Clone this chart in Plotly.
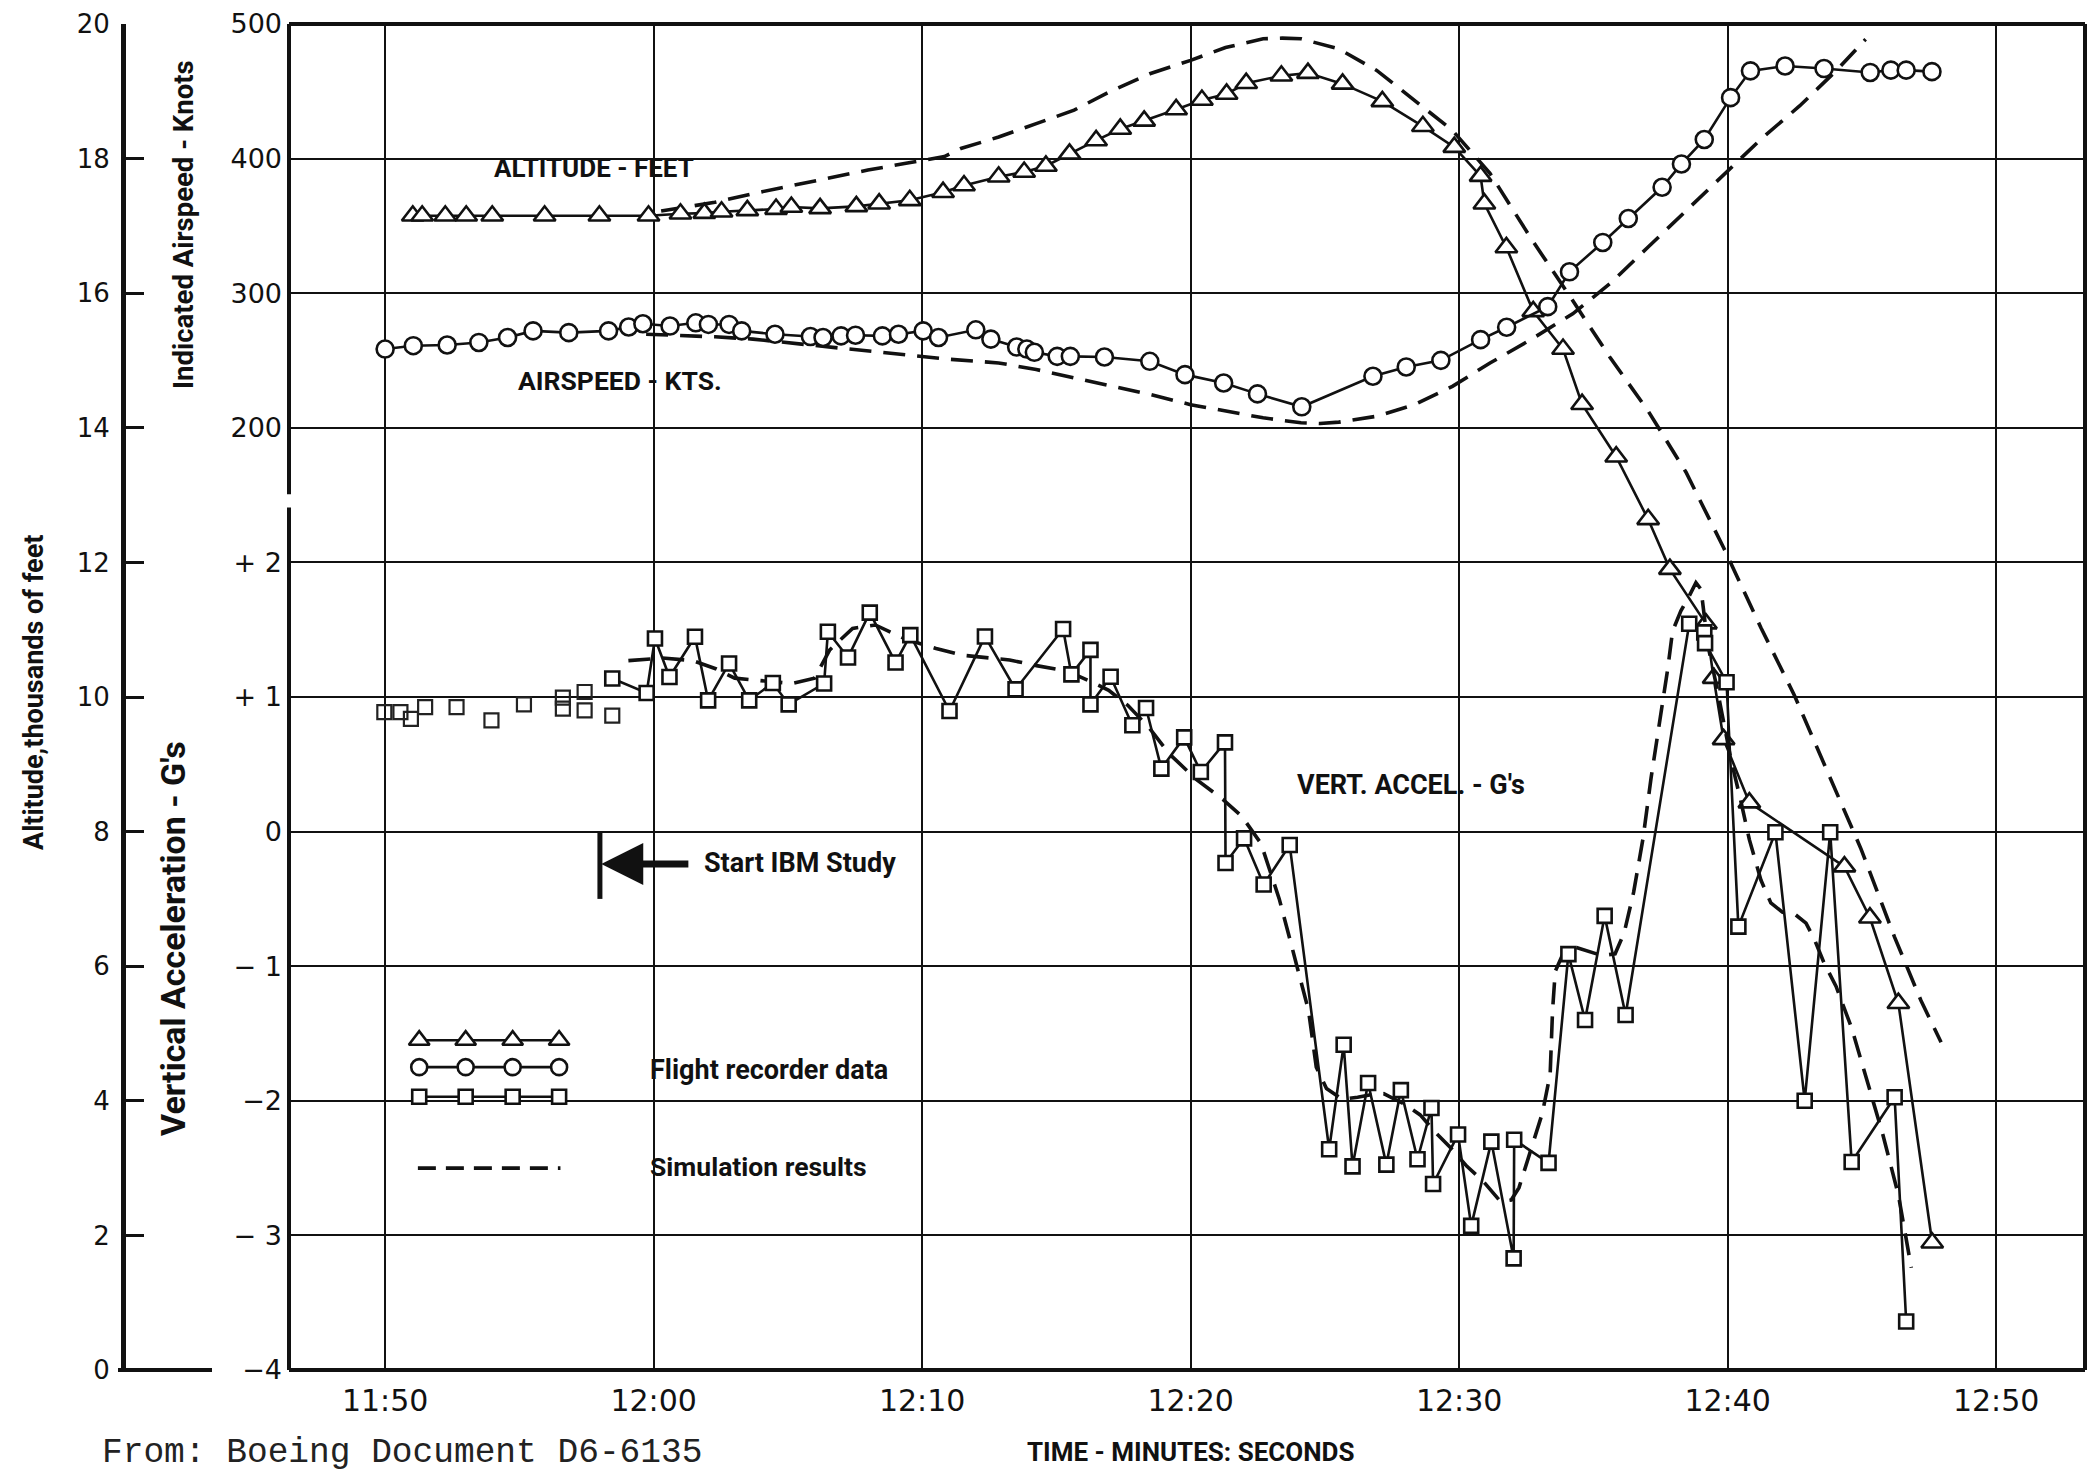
import plotly.graph_objects as go

# ---------------- data (time in seconds: 710 = 11:50) ----------------
time_ticks = [710, 720, 730, 740, 750, 760, 770]
time_labels = ["11:50", "12:00", "12:10", "12:20", "12:30", "12:40", "12:50"]

alt_ticks = [0, 2, 4, 6, 8, 10, 12, 14, 16, 18, 20]
alt_labels = ["0", "2", "4", "6", "8", "10", "12", "14", "16", "18", "20"]
spd_ticks = [200, 300, 400, 500]
acc_ticks = [-4, -3, -2, -1, 0, 1, 2, 3, 4, 5, 6]
acc_labels = ["\u22124", "\u2212 3", "\u22122", "\u2212 1", "0", "+ 1", "+ 2", "", "", "", ""]

# Altitude, flight recorder (thousands of feet)
alt_rec_t = [711.03, 711.38, 712.24, 713.02, 713.99, 715.94, 717.98, 719.81, 721.00, 721.89,
             722.53, 723.49, 724.56, 725.13, 726.20, 727.55, 728.40, 729.54, 730.78, 731.56,
             732.85, 733.80, 734.61, 735.49, 736.48, 737.38, 738.27, 739.46, 740.42, 741.34,
             742.07, 743.38, 744.37, 745.66, 747.14, 748.65, 749.82, 750.80, 750.94, 751.76,
             752.76, 753.87, 754.58, 755.85, 757.04, 757.85, 759.19, 759.48, 759.85, 760.81,
             764.35, 765.30, 766.36, 767.62]
alt_rec_k = [17.15, 17.15, 17.15, 17.15, 17.15, 17.15, 17.15, 17.15, 17.18, 17.19,
             17.21, 17.23, 17.25, 17.28, 17.26, 17.29, 17.33, 17.38, 17.50, 17.60,
             17.73, 17.80, 17.89, 18.07, 18.27, 18.44, 18.56, 18.73, 18.87, 18.96,
             19.12, 19.23, 19.27, 19.11, 18.85, 18.48, 18.17, 17.74, 17.33, 16.68,
             15.73, 15.17, 14.35, 13.57, 12.64, 11.90, 11.09, 10.28, 9.37, 8.43,
             7.48, 6.72, 5.45, 1.89]

# Indicated airspeed, flight recorder (knots)
spd_rec_t = [710.00, 711.05, 712.31, 713.49, 714.56, 715.51, 716.84, 718.32, 719.07, 719.60,
             720.61, 721.57, 722.04, 722.81, 723.28, 724.52, 725.84, 726.31, 726.98, 727.52,
             728.52, 729.12, 730.04, 730.61, 732.00, 732.56, 733.52, 733.90, 734.18, 735.03,
             735.52, 736.79, 738.48, 739.79, 741.23, 742.49, 744.14, 746.79, 748.03, 749.32,
             750.80, 751.77, 753.30, 754.11, 755.35, 756.30, 757.56, 758.28, 759.13, 760.11,
             760.85, 762.14, 763.59, 765.31, 766.08, 766.65, 767.61]
spd_rec_v = [258.5, 261.0, 261.5, 263.4, 267.1, 272.0, 270.7, 272.0, 274.9, 277.3,
             275.6, 278.0, 276.8, 276.8, 272.0, 269.5, 267.8, 267.1, 268.3, 268.8,
             268.3, 269.5, 272.0, 267.1, 272.8, 265.9, 260.0, 258.5, 256.1, 253.1,
             253.1, 252.6, 249.4, 239.5, 233.3, 225.2, 215.6, 238.3, 245.2, 250.1,
             265.5, 274.7, 290.0, 315.9, 337.7, 355.5, 378.7, 396.0, 414.2, 445.3,
             465.2, 468.8, 466.9, 464.0, 465.7, 465.7, 464.6]

# Vertical acceleration, flight recorder (g) - connected part
acc_rec_t = [718.46, 719.74, 720.05, 720.59, 721.54, 722.03, 722.81, 723.56, 724.44, 725.03,
             726.35, 726.49, 727.24, 728.05, 729.01, 729.56, 731.02, 732.34, 733.48, 735.25,
             735.56, 736.27, 736.27, 737.02, 737.83, 738.34, 738.91, 739.76, 740.38, 741.28,
             741.30, 741.99, 742.72, 743.69, 745.16, 745.70, 746.03, 746.61, 747.29, 747.83,
             748.45, 748.97, 749.03, 749.96, 750.45, 751.20, 752.03, 752.05, 753.33, 754.07,
             754.69, 755.42, 756.20, 758.57, 759.13, 759.16, 759.96, 760.40, 761.78, 762.87,
             763.82, 764.62, 766.22, 766.65]
acc_rec_g = [1.137, 1.030, 1.435, 1.149, 1.448, 0.975, 1.249, 0.975, 1.104, 0.945,
             1.100, 1.485, 1.294, 1.627, 1.256, 1.460, 0.896, 1.450, 1.057, 1.505,
             1.168, 1.350, 0.945, 1.150, 0.790, 0.918, 0.468, 0.700, 0.443, 0.663,
             -0.233, -0.050, -0.393, -0.100, -2.360, -1.584, -2.487, -1.868, -2.474, -1.921,
             -2.434, -2.053, -2.618, -2.250, -2.929, -2.303, -3.171, -2.289, -2.461, -0.910,
             -1.400, -0.626, -1.363, 1.544, 1.480, 1.400, 1.110, -0.706, -0.005, -2.000,
             -0.005, -2.455, -1.974, -3.640]

# Vertical acceleration, flight recorder (g) - isolated early readings
acc_pre_t = [709.97, 710.57, 710.96, 711.49, 712.66, 713.96, 715.17, 716.62, 716.62, 717.43,
             717.43, 718.46]
acc_pre_g = [0.888, 0.888, 0.838, 0.925, 0.925, 0.826, 0.945, 0.995, 0.913, 1.037,
             0.900, 0.861]

# Simulation results
alt_sim_t = [720.28, 722.28, 723.70, 725.13, 726.55, 727.98, 729.40, 730.83, 731.44, 732.85,
             734.25, 735.66, 737.07, 738.48, 740.00, 741.30, 742.70, 743.41, 744.11, 745.52,
             746.93, 748.34, 749.75, 751.15, 752.70, 754.23, 755.63, 757.04, 758.45, 759.86,
             761.24, 762.48, 763.72, 764.97, 766.21, 767.20, 767.95]
alt_sim_k = [17.22, 17.35, 17.48, 17.60, 17.71, 17.83, 17.93, 18.03, 18.15, 18.32,
             18.52, 18.72, 19.01, 19.26, 19.46, 19.65, 19.78, 19.79, 19.78, 19.63,
             19.31, 18.86, 18.42, 17.78, 16.80, 15.89, 15.04, 14.25, 13.34, 12.21,
             11.03, 10.03, 8.88, 7.74, 6.44, 5.49, 4.87]

spd_sim_t = [719.72, 720.85, 722.28, 723.70, 725.13, 726.55, 727.98, 729.40, 730.83, 732.85,
             734.25, 735.66, 737.07, 738.48, 740.00, 741.30, 742.70, 744.11, 744.82, 745.52,
             746.93, 748.34, 749.75, 751.15, 752.69, 754.23, 755.63, 757.04, 758.45, 759.86,
             761.27, 762.68, 764.08, 765.14]
spd_sim_v = [269.5, 268.8, 267.6, 265.9, 262.9, 259.8, 256.6, 253.7, 251.2, 248.2,
             243.3, 237.1, 230.9, 224.8, 217.2, 212.3, 207.4, 203.7, 203.2, 204.2,
             208.6, 217.2, 230.8, 248.1, 265.8, 284.7, 307.3, 334.3, 361.2, 388.1,
             415.0, 439.1, 466.0, 488.7]

acc_sim_t = [719.06, 720.33, 721.46, 722.31, 723.02, 724.01, 725.14, 725.99, 726.56, 727.41,
             728.26, 729.39, 730.52, 731.51, 733.26, 734.26, 735.39, 736.17, 736.95, 737.66,
             738.44, 739.22, 740.21, 741.21, 741.91, 742.62, 742.91, 743.30, 743.75, 744.39,
             744.68, 745.06, 745.64, 746.22, 746.71, 747.19, 747.97, 748.55, 749.13, 749.71,
             750.29, 750.87, 751.55, 751.94, 752.23, 752.61, 753.10, 753.39, 753.48, 753.58,
             753.87, 754.26, 754.74, 755.32, 755.81, 756.15, 756.50, 756.85, 757.15, 757.50,
             757.77, 757.95, 758.26, 758.57, 758.82, 759.01, 759.26, 759.63, 759.88, 760.12,
             760.50, 760.81, 761.24, 761.61, 762.05, 762.48, 762.92, 763.23, 763.60, 764.04,
             764.62, 765.20, 765.78, 766.36, 766.84]
acc_sim_g = [1.27, 1.29, 1.27, 1.21, 1.14, 1.12, 1.10, 1.14, 1.35, 1.51,
             1.535, 1.43, 1.36, 1.31, 1.275, 1.233, 1.193, 1.125, 1.05, 0.938,
             0.775, 0.575, 0.388, 0.238, 0.113, -0.088, -0.263, -0.50, -0.84, -1.329,
             -1.75, -1.908, -1.987, -1.974, -1.955, -1.947, -2.026, -2.105, -2.237, -2.355,
             -2.487, -2.592, -2.75, -2.737, -2.645, -2.408, -2.092, -1.803, -1.329, -1.039,
             -0.908, -0.855, -0.882, -0.921, -0.908, -0.75, -0.45, -0.05, 0.40, 0.84,
             1.21, 1.49, 1.64, 1.75, 1.85, 1.80, 1.39, 1.04, 0.79, 0.54,
             0.22, -0.06, -0.36, -0.53, -0.60, -0.61, -0.68, -0.80, -0.98, -1.15,
             -1.46, -1.86, -2.25, -2.70, -3.24]

# ---------------- layout constants ----------------
W, H = 2089, 1474
ML, MR, MT, MB = 0, 4, 24, 104
PW, PH = W - ML - MR, H - MT - MB
PLOT_LEFT = 289
ALT_AXIS_X = 123
X_RANGE = [706.42, 773.31]

BLACK = "#111111"
NARROW = "Roboto, Liberation Sans, sans-serif"
NUMF = "DejaVu Sans, Verdana, sans-serif"
MONO = "Liberation Mono, DejaVu Sans Mono, Courier New, monospace"


def px(x):
    return (x - ML) / PW


def py(y):
    return (MT + PH - y) / PH


LINE_W = 2.6
DASH = "22px,12px"
DASH_W = 3.6

fig = go.Figure()

# simulation lines
fig.add_trace(go.Scatter(x=alt_sim_t, y=alt_sim_k, yaxis="y", mode="lines",
                         line=dict(color=BLACK, width=DASH_W, dash=DASH), hoverinfo="skip"))
fig.add_trace(go.Scatter(x=spd_sim_t, y=spd_sim_v, yaxis="y2", mode="lines",
                         line=dict(color=BLACK, width=DASH_W, dash=DASH), hoverinfo="skip"))
fig.add_trace(go.Scatter(x=acc_sim_t, y=acc_sim_g, yaxis="y3", mode="lines",
                         line=dict(color=BLACK, width=DASH_W, dash=DASH), hoverinfo="skip"))

mk_line = dict(color=BLACK, width=2.6)
# recorder data
fig.add_trace(go.Scatter(x=acc_pre_t, y=acc_pre_g, yaxis="y3", mode="markers",
                         marker=dict(symbol="square-open", size=14, color="#222222",
                                     line=dict(width=2.2))))
fig.add_trace(go.Scatter(x=acc_rec_t, y=acc_rec_g, yaxis="y3", mode="lines+markers",
                         line=dict(color=BLACK, width=LINE_W),
                         marker=dict(symbol="square", size=14, color="white", line=mk_line)))
fig.add_trace(go.Scatter(x=spd_rec_t, y=spd_rec_v, yaxis="y2", mode="lines+markers",
                         line=dict(color=BLACK, width=LINE_W),
                         marker=dict(symbol="circle", size=17, color="white", line=mk_line)))
fig.add_trace(go.Scatter(x=alt_rec_t, y=alt_rec_k, yaxis="y", mode="lines+markers",
                         line=dict(color=BLACK, width=LINE_W),
                         marker=dict(symbol="triangle-up", size=19, color="white", line=mk_line)))

# legend samples (positions are layout constants)
LEG_X = [711.27, 713.0, 714.75, 716.48]
leg_rows = [(4.90, "triangle-up", 18), (4.50, "circle", 16), (4.06, "square", 14)]
for yy, sym, sz in leg_rows:
    fig.add_trace(go.Scatter(x=LEG_X, y=[yy] * 4, yaxis="y", mode="lines+markers",
                             line=dict(color=BLACK, width=LINE_W),
                             marker=dict(symbol=sym, size=sz, color="white", line=mk_line),
                             hoverinfo="skip"))
fig.add_trace(go.Scatter(x=[LEG_X[0] - 0.05, LEG_X[-1] + 0.05], y=[3.0, 3.0], yaxis="y",
                         mode="lines", line=dict(color=BLACK, width=DASH_W, dash="18px,10px"),
                         hoverinfo="skip"))

tick_num_font = dict(family=NUMF, size=27, color=BLACK)

fig.update_layout(
    width=W, height=H, margin=dict(l=ML, r=MR, t=MT, b=MB),
    paper_bgcolor="white", plot_bgcolor="white", showlegend=False,
    xaxis=dict(domain=[px(PLOT_LEFT), 1], range=X_RANGE, tickvals=time_ticks,
               ticktext=time_labels, showgrid=True, gridcolor=BLACK, gridwidth=2,
               zeroline=False, showline=False, ticks="", ticklabelstandoff=10,
               tickfont=dict(family=NUMF, size=30, color=BLACK), fixedrange=True),
    yaxis=dict(range=[0, 20], anchor="free", position=px(ALT_AXIS_X), side="left",
               tickvals=alt_ticks, ticktext=alt_labels, showgrid=False, zeroline=False,
               showline=True, linewidth=5, linecolor=BLACK, ticks="inside", ticklen=18,
               tickwidth=3, tickcolor=BLACK, ticklabelstandoff=6,
               tickfont=dict(family=NUMF, size=26, color=BLACK), fixedrange=True),
    yaxis2=dict(range=[-500, 500], overlaying="y", anchor="x", side="left",
                tickvals=spd_ticks, showgrid=False, zeroline=False, showline=False,
                ticks="", ticklabelstandoff=6, tickfont=tick_num_font, fixedrange=True),
    yaxis3=dict(range=[-4, 6], overlaying="y", anchor="x", side="left",
                tickvals=acc_ticks, ticktext=acc_labels, showgrid=True, gridcolor=BLACK,
                gridwidth=2, zeroline=False, showline=False, ticks="",
                ticklabelstandoff=6, tickfont=tick_num_font, fixedrange=True),
)

# frame
fx0 = px(PLOT_LEFT)
frame = [
    (fx0, 1, 1, 1), (fx0, 0, 1, 0), (1, 0, 1, 1),
    (fx0, py(371 * 1.3323), fx0, 1), (fx0, 0, fx0, py(381 * 1.3323)),
]
for x0, y0, x1, y1 in frame:
    fig.add_shape(type="line", xref="paper", yref="paper", x0=x0, y0=y0, x1=x1, y1=y1,
                  line=dict(color=BLACK, width=4))
# foot of altitude scale
fig.add_shape(type="line", xref="paper", yref="paper", x0=px(118), y0=0, x1=px(212), y1=0,
              line=dict(color=BLACK, width=4))

# Start IBM Study marker
fig.add_shape(type="line", xref="x", yref="y", x0=718.0, y0=8.0, x1=718.0, y1=7.0,
              line=dict(color=BLACK, width=5))
fig.add_annotation(x=718.05, y=7.52, xref="x", yref="y", ax=721.35, ay=7.52,
                   axref="x", ayref="y", text="", showarrow=True, arrowhead=2,
                   arrowsize=1.2, arrowwidth=7, arrowcolor=BLACK)

bold = dict(family=NARROW, size=27, color=BLACK, weight="bold")


def label(text, x, y, size=27, xanchor="center", xref="x", yref="y", angle=0, font=None):
    f = dict(bold)
    f["size"] = size
    if font:
        f = font
    fig.add_annotation(x=x, y=y, xref=xref, yref=yref, text=text, showarrow=False,
                       xanchor=xanchor, yanchor="middle", textangle=angle, font=f)


label("ALTITUDE - FEET", 717.78, 17.86, size=26)
label("AIRSPEED - KTS.", 718.75, 14.71, size=26.5)
label("VERT. ACCEL. - G's", 748.21, 8.69, size=27)
label("Start IBM Study", 721.81, 7.53, size=27, xanchor="left")
label("Flight recorder data", 719.80, 4.46, size=27, xanchor="left")
label("Simulation results", 719.80, 3.02, size=26.5, xanchor="left")

label("Altitude,thousands of feet", px(34), py(693), size=27, xref="paper", yref="paper", angle=-90)
label("Indicated Airspeed - Knots", px(183), py(225), size=27.5, xref="paper", yref="paper", angle=-90)
label("Vertical Acceleration - G's", px(173), py(939), size=34, xref="paper", yref="paper", angle=-90)
label("TIME - MINUTES: SECONDS", px(1190), py(1452), size=26, xref="paper", yref="paper")
label("From: Boeing Document D6-6135", px(100), py(1452), xref="paper", yref="paper",
      xanchor="left", font=dict(family=MONO, size=34.5, color="#222222"))

fig.write_html("out.html", config={"displayModeBar": False, "staticPlot": True},
               post_script="document.body.style.margin='0';document.body.style.overflow='hidden';")
